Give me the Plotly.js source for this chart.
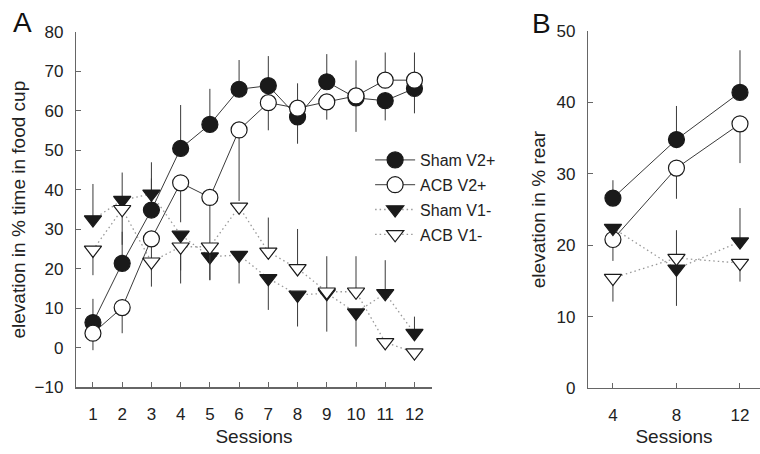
<!DOCTYPE html>
<html>
<head>
<meta charset="utf-8">
<script src="https://cdn.plot.ly/plotly-3.0.1.min.js"></script>
<style>html,body{margin:0;padding:0;background:#fff;}#chart{width:760px;height:454px;}</style>
</head>
<body>
<div id="chart"></div>
<script>
// ---- Panel A data ----
var sessionsA = [1,2,3,4,5,6,7,8,9,10,11,12];
var shamV2A = [6.4,21.4,34.9,50.5,56.6,65.5,66.4,58.5,67.4,63.3,62.6,65.7];
var shamV2A_up = [6,8,8,11,9,7.4,7.5,0,7,0,0,0];
var shamV2A_dn = [0,0,0,0,0,0,0,6.8,0,8.6,5,6.3];
var acbV2A = [3.7,10.2,27.6,41.8,38.1,55.2,62.1,60.7,62.3,63.8,67.8,67.8];
var acbV2A_up = [0,0,0,0,0,0,0,6.3,0,9,7,7];
var acbV2A_dn = [4.3,6.5,8,10,14,18,7,0,4.5,0,0,0];
var shamV1A = [32.5,37.4,39,28.6,23.1,23.5,17.6,13.4,13.8,8.9,13.8,3.7];
var shamV1A_up = [9,7,8,0,0,0,0,0,0,0,8.4,4.2];
var shamV1A_dn = [0,0,0,9,6,7.2,8,8,9.7,8.6,0,0];
var acbV1A = [24.8,35.1,21.8,25.6,25.6,35.7,24.3,20.1,14.2,14.2,1.4,-1.2];
var acbV1A_up = [0,0,0,0,0,0,8.7,10,9,9,0,0];
var acbV1A_dn = [6.4,9,6.3,9.3,8.4,0,0,0,0,0,2,2];

// ---- Panel B data ----
var sessionsB = [4,8,12];
var shamV2B = [26.6,34.8,41.4];
var shamV2B_up = [2.5,4.7,5.9];
var shamV2B_dn = [0,0,0];
var acbV2B = [20.8,30.8,37.0];
var acbV2B_up = [0,0,0];
var acbV2B_dn = [3,4.3,5.5];
var shamV1B = [22.4,16.7,20.5];
var shamV1B_up = [0,0,4.7];
var shamV1B_dn = [0,5.2,0];
var acbV1B = [15.4,18.2,17.5];
var acbV1B_up = [0,3.9,0];
var acbV1B_dn = [3.3,0,2.6];

var seriesNames = ['Sham V2+','ACB V2+','Sham V1-','ACB V1-'];

var dark = '#1a1a1a';
var lineDark = '#3a3a3a';
var dotGray = '#999999';

function mk(x, y, up, dn, name, kind, xa, ya, showleg) {
  var filled = (kind === 0 || kind === 2);
  var tri = (kind >= 2);
  return {
    type: 'scatter', mode: 'lines+markers', x: x, y: y, name: name,
    xaxis: xa, yaxis: ya, showlegend: showleg, legendgroup: 'g' + kind,
    line: tri ? {color: dotGray, width: 1.3, dash: '1.5px,3px'} : {color: lineDark, width: 1},
    marker: {
      symbol: tri ? 'triangle-down' : 'circle',
      size: tri ? 15 : 16,
      color: filled ? dark : '#ffffff',
      line: {color: dark, width: 1.2}
    },
    error_y: {type: 'data', symmetric: false, array: up, arrayminus: dn,
              color: lineDark, thickness: 1, width: 0}
  };
}

var traces = [
  mk(sessionsA, shamV2A, shamV2A_up, shamV2A_dn, seriesNames[0], 0, 'x', 'y', true),
  mk(sessionsA, acbV2A, acbV2A_up, acbV2A_dn, seriesNames[1], 1, 'x', 'y', true),
  mk(sessionsA, shamV1A, shamV1A_up, shamV1A_dn, seriesNames[2], 2, 'x', 'y', true),
  mk(sessionsA, acbV1A, acbV1A_up, acbV1A_dn, seriesNames[3], 3, 'x', 'y', true),
  mk(sessionsB, shamV2B, shamV2B_up, shamV2B_dn, seriesNames[0], 0, 'x2', 'y2', false),
  mk(sessionsB, acbV2B, acbV2B_up, acbV2B_dn, seriesNames[1], 1, 'x2', 'y2', false),
  mk(sessionsB, shamV1B, shamV1B_up, shamV1B_dn, seriesNames[2], 2, 'x2', 'y2', false),
  mk(sessionsB, acbV1B, acbV1B_up, acbV1B_dn, seriesNames[3], 3, 'x2', 'y2', false)
];

var fontFam = 'Liberation Sans, Arial, sans-serif';
var axCommon = {
  showline: true, linecolor: '#666', linewidth: 1.2,
  ticks: 'inside', ticklen: 5, tickcolor: '#666', tickwidth: 1,
  showgrid: false, zeroline: false,
  tickfont: {family: fontFam, size: 17, color: '#222'}
};

var layout = {
  width: 760, height: 454,
  margin: {l: 0, r: 0, t: 0, b: 0},
  paper_bgcolor: '#fff', plot_bgcolor: '#fff',
  font: {family: fontFam, color: '#222'},
  showlegend: true,
  legend: {x: 0.487, y: 0.685, xanchor: 'left', yanchor: 'top',
           font: {family: fontFam, size: 16, color: '#222'},
           tracegroupgap: 1, itemwidth: 40,
           bgcolor: 'rgba(0,0,0,0)', borderwidth: 0},
  xaxis: Object.assign({}, axCommon, {
    domain: [76/760, 432/760], range: [0.42, 12.6],
    tickvals: sessionsA, ticklabelstandoff: 11,
    title: {text: 'Sessions', font: {family: fontFam, size: 19, color: '#222'}, standoff: 6},
    anchor: 'y'
  }),
  yaxis: Object.assign({}, axCommon, {
    domain: [1 - 387.3/454, 1 - 32/454], range: [-10, 80], dtick: 10,
    ticklabelstandoff: 8,
    title: {text: 'elevation in % time in food cup', font: {family: fontFam, size: 19, color: '#222'}, standoff: 3},
    anchor: 'x'
  }),
  xaxis2: Object.assign({}, axCommon, {
    domain: [588/760, 1], range: [2.43, 13.26],
    tickvals: sessionsB, ticklabelstandoff: 11,
    title: {text: 'Sessions', font: {family: fontFam, size: 19, color: '#222'}, standoff: 6},
    anchor: 'y2'
  }),
  yaxis2: Object.assign({}, axCommon, {
    domain: [1 - 388/454, 1 - 31/454], range: [0, 50], dtick: 10,
    ticklabelstandoff: 8,
    title: {text: 'elevation in % rear', font: {family: fontFam, size: 19, color: '#222'}, standoff: 5},
    anchor: 'x2'
  }),
  annotations: [
    {text: 'A', xref: 'paper', yref: 'paper', x: 22/760, y: 1 - 22/454, xanchor: 'center', yanchor: 'middle',
     showarrow: false, font: {family: fontFam, size: 28, color: '#111'}},
    {text: 'B', xref: 'paper', yref: 'paper', x: 541/760, y: 1 - 24/454, xanchor: 'center', yanchor: 'middle',
     showarrow: false, font: {family: fontFam, size: 28, color: '#111'}}
  ]
};

Plotly.newPlot('chart', traces, layout, {displayModeBar: false, staticPlot: true});
</script>
</body>
</html>
